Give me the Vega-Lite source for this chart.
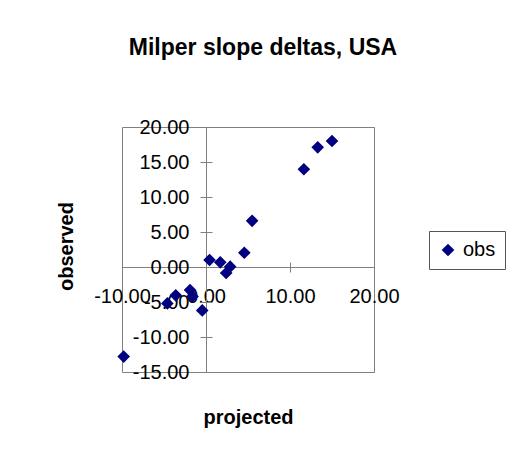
{
  "$schema": "https://vega.github.io/schema/vega-lite/v6.json",
  "width": 252,
  "height": 245,
  "autosize": "none",
  "padding": {"left": 122, "top": 127, "right": 141, "bottom": 101},
  "background": "white",
  "title": {
    "text": "Milper slope deltas, USA",
    "font": "Liberation Sans",
    "fontSize": 23,
    "fontWeight": "bold",
    "color": "#000000",
    "anchor": "middle",
    "frame": "group",
    "dx": 15,
    "offset": 57
  },
  "data": {
    "values": [
      {"projected": -9.8, "observed": -12.8},
      {"projected": -4.6, "observed": -5.2},
      {"projected": -3.6, "observed": -4.05},
      {"projected": -1.9, "observed": -3.3},
      {"projected": -1.6, "observed": -4.2},
      {"projected": -0.45, "observed": -6.2},
      {"projected": 0.42, "observed": 1.0},
      {"projected": 1.7, "observed": 0.67},
      {"projected": 2.88, "observed": 0.05},
      {"projected": 2.4, "observed": -0.85},
      {"projected": 4.56, "observed": 2.04},
      {"projected": 5.49, "observed": 6.6},
      {"projected": 11.65, "observed": 13.96},
      {"projected": 13.3, "observed": 17.1},
      {"projected": 15.0, "observed": 18.0}
    ]
  },
  "resolve": {"axis": {"x": "independent", "y": "independent"}},
  "layer": [
    {
      "mark": {"type": "point", "shape": "diamond", "filled": true, "size": 160, "opacity": 1, "strokeWidth": 0},
      "encoding": {
        "x": {
          "field": "projected", "type": "quantitative",
          "scale": {"domain": [-10, 20], "nice": false, "zero": false},
          "axis": {
            "orient": "bottom", "offset": -105, "values": [-10, 0, 10, 20],
            "labelExpr": "(datum.value < 0 ? '-' : '') + format(abs(datum.value), '.2f')",
            "labelFont": "Liberation Sans", "labelFontSize": 20, "labelColor": "#000000",
            "labelPadding": 14, "labelOverlap": false, "labelFlush": false, "labelBound": false,
            "tickSize": 5, "tickColor": "#808080", "domainColor": "#808080", "grid": false,
            "title": "projected", "titleFont": "Liberation Sans", "titleFontSize": 20, "titleFontWeight": "bold",
            "titleColor": "#000000", "titleX": 126, "titleY": 156, "titleBaseline": "alphabetic", "titleAlign": "center"
          }
        },
        "y": {
          "field": "observed", "type": "quantitative",
          "scale": {"domain": [-15, 20], "nice": false, "zero": false},
          "axis": {
            "orient": "left", "offset": -84, "values": [-15, -10, -5, 0, 5, 10, 15, 20],
            "labelExpr": "(datum.value < 0 ? '-' : '') + format(abs(datum.value), '.2f')",
            "labelFont": "Liberation Sans", "labelFontSize": 20, "labelColor": "#000000",
            "labelPadding": 11, "labelOverlap": false, "labelFlush": false, "labelBound": false,
            "tickSize": 6, "tickColor": "#808080", "domainColor": "#808080", "grid": false,
            "title": "observed", "titleFont": "Liberation Sans", "titleFontSize": 20, "titleFontWeight": "bold",
            "titleColor": "#000000", "titleAngle": 270, "titleX": -134, "titleY": 119, "titleBaseline": "alphabetic", "titleAlign": "center"
          }
        },
        "color": {
          "datum": "obs",
          "scale": {"range": ["#000080"]},
          "legend": {
            "orient": "none", "legendX": 307, "legendY": 104, "title": null,
            "strokeColor": "#555555", "fillColor": "white", "padding": 9,
            "symbolType": "diamond", "symbolSize": 160, "symbolStrokeWidth": 0,
            "labelFont": "Liberation Sans", "labelFontSize": 20, "labelColor": "#000000", "labelOffset": 5
          }
        }
      }
    },
    {
      "mark": {"type": "point", "opacity": 0},
      "encoding": {
        "x": {
          "field": "projected", "type": "quantitative",
          "axis": {
            "orient": "top", "offset": -140, "values": [-10, 0, 10, 20],
            "labels": false, "domain": false, "grid": false, "title": null,
            "tickSize": 5, "tickColor": "#808080"
          }
        },
        "y": {
          "field": "observed", "type": "quantitative",
          "axis": {
            "orient": "right", "offset": -168, "values": [-15, -10, -5, 0, 5, 10, 15, 20],
            "labels": false, "domain": false, "grid": false, "title": null,
            "tickSize": 6, "tickColor": "#808080"
          }
        }
      }
    }
  ],
  "config": {
    "view": {"stroke": "#808080", "strokeWidth": 1},
    "font": "Liberation Sans"
  }
}
